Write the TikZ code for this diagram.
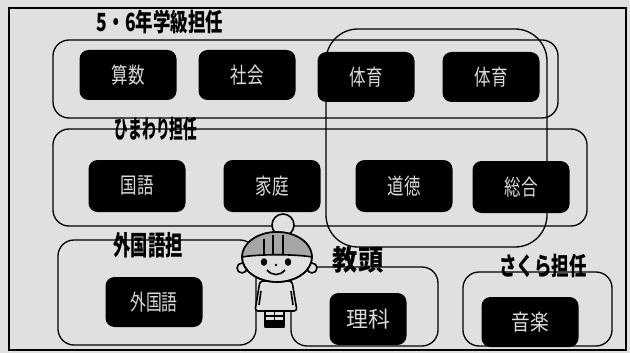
\documentclass[tikz,border=0pt]{standalone}
\usepackage{fontspec}
\newfontfamily\jp{Noto Sans CJK JP}
\definecolor{paper}{gray}{0.88}
\def\nar#1#2{\scalebox{#1}[1]{#2}}

\tikzset{
  subj/.style={fill=black,rounded corners=9,minimum width=97,minimum height=50,
    inner sep=0,text=white!85!black,font=\jp\fontsize{22}{22}\selectfont},
  grp/.style={line width=1.3,rounded corners=16},
  lbl/.style={inner sep=0,font=\jp\bfseries\fontsize{25}{25}\selectfont}
}

\begin{document}
\begin{tikzpicture}[x=1pt,y=-1pt]
\useasboundingbox (0,0) rectangle (630,353);
\fill [paper] (0,0) rectangle (630,353);
\draw [line width=1.6] (9,8) rectangle (626,350);
\draw [grp] (53,40) rectangle (558,118)
  (53,129) rectangle (587,226)
  (58,240) rectangle (256,345)
  (291,267) rectangle (438,346)
  (463,272) rectangle (612,346);
\draw [grp,rounded corners=32] (326,29) rectangle (547,247);

\node [subj] (sansu)   at (128,75)  {\nar{.75}{算数}};
\node [subj] (shakai)  at (247,75)  {\nar{.75}{社会}};
\node [subj] (taiiku)  at (366,77)  {\nar{.75}{体育}};
\node [subj] (taiiku2) at (491,77)  {\nar{.75}{体育}};
\node [subj,minimum height=52] (kokugo) at (137,186) {\nar{.75}{国語}};
\node [subj,minimum height=52] (katei)  at (272,186) {\nar{.75}{家庭}};
\node [subj,minimum height=52] (doutoku) at (404,186) {\nar{.75}{道徳}};
\node [subj,minimum height=52] (sougou)  at (521,187) {\nar{.75}{総合}};
\node [subj] (gaikokugo) at (154,302) {\nar{.72}{外国語}};
\node [subj,minimum width=77,minimum height=52] (rika) at (368,319) {理科};
\node [subj] (ongaku) at (530,322) {\nar{.85}{音楽}};

\node [lbl] (gakkyu) at (160,22) {\nar{.7}{5・6年学級担任}};
\node [lbl] (himawari) at (156,129) {\nar{.55}{ひまわり担任}};
\node [lbl,font=\jp\bfseries\fontsize{27}{27}\selectfont] (gaitan) at (148,245) {\nar{.64}{外国語担}};
\node [lbl,font=\jp\bfseries\fontsize{28}{28}\selectfont] (kyoto) at (358,260) {\nar{.9}{教頭}};
\node [lbl] (sakura) at (543,266) {\nar{.7}{さくら担任}};

% girl
\begin{scope}[line width=1.6,line join=round]
\filldraw [fill=paper,rounded corners=3] (260,281) -- (292,281) -- (297,311)
  -- (255,311) -- cycle;
\draw (261,291) -- (259,305) (291,291) -- (293,305);
\filldraw [fill=paper] (265,311) rectangle (284,327);
\draw (265,316) -- (284,316) (265,321) -- (284,321) (274.5,311) -- (274.5,327);
\fill (264,322) rectangle (285,327);
\filldraw [fill=paper] (283,225) circle (11);
\filldraw [fill=paper] (242,268) circle (5) (312,268) circle (5);
\filldraw [fill=paper] (277,257) ellipse (35 and 25);
\begin{scope}
\clip (277,257) ellipse (35 and 25);
\fill [gray!70] (240,225) -- (315,225) -- (315,257)
  .. controls (295,254) and (259,254) .. (240,257) -- cycle;
\end{scope}
\draw (242,257) .. controls (259,254) and (295,254) .. (312,257);
\draw (264,239) -- (264,255) (273,235) -- (273,254) (283,235) -- (283,254);
\draw (277,257) ellipse (35 and 25);
\fill (264,262) ellipse (3.2 and 3.8) (288,262) ellipse (3.2 and 3.8);
\fill (276,265) circle (1.3);
\draw (267,270) .. controls (272,276) and (280,276) .. (285,270);
\end{scope}
\end{tikzpicture}
\end{document}
